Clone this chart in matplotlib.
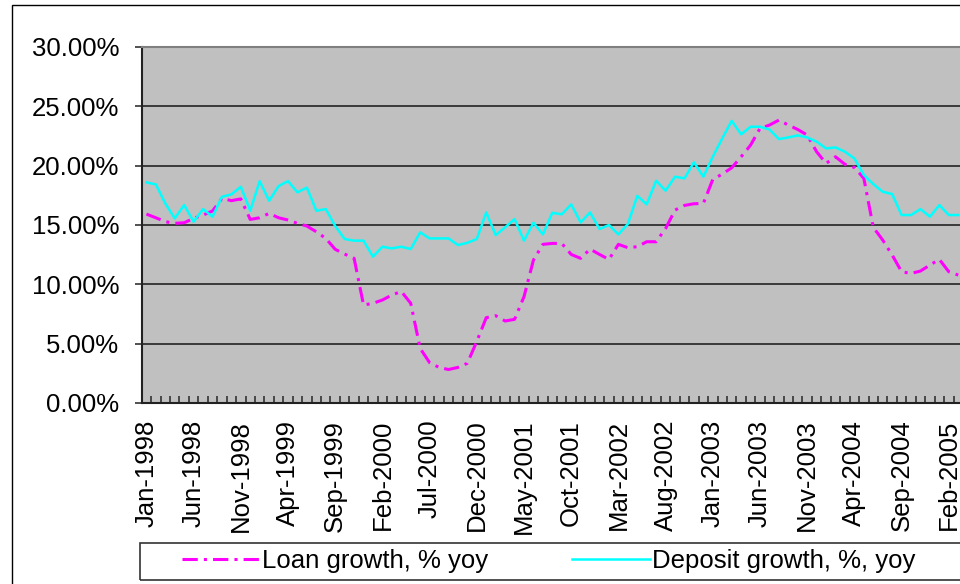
import numpy as np
import pandas as pd
import matplotlib
matplotlib.use("Agg")
import matplotlib.pyplot as plt
from matplotlib.patches import Rectangle
from matplotlib.ticker import FixedLocator, FuncFormatter

plt.rcParams['font.family'] = ['Liberation Sans', 'DejaVu Sans']

# monthly series, Jan-1998 .. Mar-2005 (% yoy)
months = pd.date_range('1998-01-01', periods=87, freq='MS')

loan_growth = [
    15.92, 15.61, 15.28, 15.14, 15.19, 15.56, 15.84, 16.18, 17.25, 17.05,
    17.20, 15.47, 15.61, 15.98, 15.61, 15.42, 15.14, 14.91, 14.43, 13.87,
    12.95, 12.55, 12.19, 8.26, 8.40, 8.68, 9.10, 9.40, 8.40, 4.60,
    3.40, 3.00, 2.82, 3.00, 3.35, 5.20, 7.19, 7.36, 6.91, 7.05,
    8.96, 12.05, 13.37, 13.45, 13.45, 12.52, 12.19, 12.97, 12.52, 12.10,
    13.37, 13.09, 13.17, 13.59, 13.59, 14.71, 16.26, 16.65, 16.79, 16.82,
    18.84, 19.29, 19.82, 20.75, 21.73, 23.14, 23.42, 23.84, 23.42, 23.05,
    22.58, 21.17, 20.19, 20.75, 20.11, 19.85, 18.93, 14.80, 13.73, 12.47,
    11.06, 10.92, 11.12, 11.63, 12.10, 11.06, 10.78,
]

deposit_growth = [
    18.59, 18.42, 16.82, 15.56, 16.68, 15.28, 16.34, 15.70, 17.38, 17.58,
    18.22, 16.20, 18.70, 17.04, 18.28, 18.70, 17.75, 18.15, 16.20, 16.34,
    14.91, 13.82, 13.68, 13.68, 12.33, 13.17, 13.03, 13.17, 12.97, 14.38,
    13.87, 13.87, 13.87, 13.31, 13.50, 13.82, 16.06, 14.15, 14.80, 15.50,
    13.68, 15.19, 14.21, 16.03, 15.90, 16.74, 15.22, 16.06, 14.66, 15.00,
    14.21, 15.08, 17.45, 16.74, 18.73, 17.89, 19.07, 18.93, 20.28, 19.07,
    20.75, 22.30, 23.78, 22.64, 23.28, 23.28, 23.05, 22.24, 22.38, 22.55,
    22.38, 22.02, 21.45, 21.54, 21.17, 20.61, 19.21, 18.45, 17.80, 17.61,
    15.84, 15.84, 16.34, 15.70, 16.68, 15.84, 15.84,
]

tick_labels = ['Jan-1998', 'Jun-1998', 'Nov-1998', 'Apr-1999', 'Sep-1999',
               'Feb-2000', 'Jul-2000', 'Dec-2000', 'May-2001', 'Oct-2001',
               'Mar-2002', 'Aug-2002', 'Jan-2003', 'Jun-2003', 'Nov-2003',
               'Apr-2004', 'Sep-2004', 'Feb-2005']

W, H = 960, 584
FS = 18.5
fig = plt.figure(figsize=(W / 100, H / 100), dpi=100)

# chart-area border (cut off at right and bottom in the original)
fig.patches.append(Rectangle((12 / W, -0.05), 1.2, 1 - 5 / H + 0.05,
                             transform=fig.transFigure, fill=False,
                             edgecolor='black', linewidth=1.0))

ax = fig.add_axes([141.7 / W, (H - 403) / H, (W - 141.7) / W, 356 / H])
ax.set_facecolor('#C0C0C0')

x = np.arange(len(months))
ax.plot(x, loan_growth, color='#FF00FF', linewidth=2.2,
        linestyle=(0, (5, 2, 1, 2)), label='Loan growth, % yoy', zorder=3)
ax.plot(x, deposit_growth, color='#00FFFF', linewidth=1.8,
        label='Deposit growth, %, yoy', zorder=4)

ax.set_ylim(0, 30)
ax.set_yticks(np.arange(0, 31, 5))
ax.yaxis.set_major_formatter(FuncFormatter(lambda v, p: f'{v:.2f}%'))
ax.grid(axis='y', color='#3a3a3a', linewidth=1.4)
ax.set_axisbelow(True)

ax.set_xlim(-0.5, (W - 146.4) / 9.44)
label_pos = [months.get_loc(pd.to_datetime(l, format='%b-%Y'))
             for l in tick_labels]
ax.set_xticks(label_pos)
ax.set_xticklabels(tick_labels, rotation=90, va='top', ha='center')
ax.xaxis.set_minor_locator(FixedLocator(np.arange(-0.5, len(months) + 1, 1)))
ax.tick_params(axis='x', which='major', length=0, pad=12, labelsize=FS)
ax.tick_params(axis='x', which='minor', direction='in', length=5,
               width=1.2, color='#333333')
ax.tick_params(axis='y', which='major', direction='out', length=5,
               width=1.2, color='#333333', pad=11, labelsize=FS)

for side in ['left', 'bottom']:
    ax.spines[side].set_color('#222222')
    ax.spines[side].set_linewidth(1.5)
ax.spines['top'].set_color('#808080')
ax.spines['top'].set_linewidth(1.5)
ax.spines['right'].set_visible(False)

# legend box
fig.patches.append(Rectangle((140 / W, 4 / H), 828 / W, 37 / H,
                             transform=fig.transFigure, fill=False,
                             edgecolor='#333333', linewidth=1.2))
fig.legend(loc='center left', bbox_to_anchor=(169 / W, 23 / H),
           ncol=2, frameon=False, fontsize=FS, borderpad=0,
           handlelength=3.0, handletextpad=0.1, columnspacing=3.3)

fig.savefig('out.png', dpi=100)
